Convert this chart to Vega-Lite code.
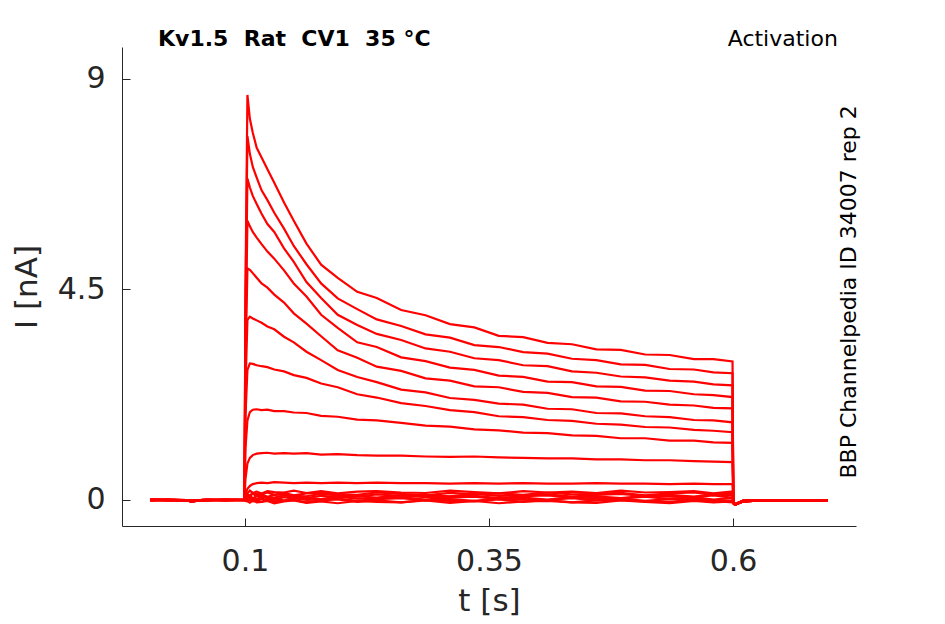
{
  "$schema": "https://vega.github.io/schema/vega-lite/v6.json",
  "width": 734,
  "height": 479,
  "autosize": {"type": "none"},
  "padding": {"left": 122, "top": 47, "right": 89, "bottom": 98},
  "background": "white",
  "config": {
    "view": {"stroke": null},
    "font": "DejaVu Sans",
    "axis": {
      "grid": false,
      "domainColor": "#262626",
      "tickColor": "#262626",
      "labelColor": "#262626",
      "titleColor": "#262626",
      "labelFont": "DejaVu Sans",
      "titleFont": "DejaVu Sans",
      "labelFontSize": 30,
      "titleFontSize": 31,
      "titleFontWeight": "normal",
      "tickSize": -8
    }
  },
  "layer": [
    {
      "data": {
        "values": [
          {"t": 0.003, "a": 0.01, "b": 0, "c": 0.01, "d": -0.01, "e": 0, "f": 0.01, "g": 0, "h": -0.01, "i": 0.01, "j": 0, "k": 0.01, "l": -0.01, "m": 0, "n": 0.01, "o": -0.01, "p": 0, "q": 0.01, "r": -0.01},
          {"t": 0.02, "a": 0, "b": 0.01, "c": 0, "d": 0, "e": -0.01, "f": 0, "g": 0.01, "h": 0, "i": -0.01, "j": 0.01, "k": 0, "l": 0, "m": 0.01, "n": -0.01, "o": 0, "p": 0.01, "q": -0.01, "r": 0},
          {"t": 0.04, "a": -0.01, "b": 0, "c": -0.01, "d": 0, "e": -0.01, "f": 0, "g": -0.01, "h": 0, "i": -0.01, "j": 0, "k": -0.01, "l": 0, "m": -0.01, "n": 0, "o": -0.01, "p": 0, "q": -0.01, "r": 0},
          {"t": 0.045, "a": -0.03, "b": -0.02, "c": -0.03, "d": -0.02, "e": -0.03, "f": -0.02, "g": -0.03, "h": -0.02, "i": -0.03, "j": -0.02, "k": -0.03, "l": -0.02, "m": -0.03, "n": -0.02, "o": -0.03, "p": -0.02, "q": -0.03, "r": -0.02},
          {"t": 0.06, "a": 0, "b": -0.01, "c": 0, "d": 0.01, "e": 0, "f": -0.01, "g": 0, "h": 0.01, "i": 0, "j": -0.01, "k": 0, "l": 0.01, "m": 0, "n": -0.01, "o": 0, "p": 0.01, "q": 0, "r": -0.01},
          {"t": 0.08, "a": 0.01, "b": 0, "c": 0, "d": -0.01, "e": 0.01, "f": 0, "g": 0, "h": -0.01, "i": 0.01, "j": 0, "k": 0, "l": -0.01, "m": 0.01, "n": 0, "o": 0, "p": -0.01, "q": 0.01, "r": 0},
          {"t": 0.0995, "a": 0, "b": 0.01, "c": 0, "d": 0, "e": -0.01, "f": 0, "g": 0.01, "h": 0, "i": 0, "j": -0.01, "k": 0, "l": 0.01, "m": 0, "n": 0, "o": -0.01, "p": 0, "q": 0.01, "r": 0},
          {"t": 0.1005, "a": 4.5, "b": 4.2, "c": 3.8, "d": 3.4, "e": 2.9, "f": 2.4, "g": 1.8, "h": 1.1, "i": 0.45, "j": 0.12, "k": 0.08, "l": 0.06, "m": 0.05, "n": 0.04, "o": 0.02, "p": 0.01, "q": -0.01, "r": -0.02},
          {"t": 0.1025, "a": 8.66, "b": 7.78, "c": 6.87, "d": 5.97, "e": 4.95, "f": 3.85, "g": 2.78, "h": 1.70, "i": 0.78, "j": 0.24, "k": 0.14, "l": 0.11, "m": 0.09, "n": 0.06, "o": 0.04, "p": 0.02, "q": -0.02, "r": -0.03},
          {"t": 0.105, "a": 8.15, "b": 7.40, "c": 6.68, "d": 5.85, "e": 4.92, "f": 3.92, "g": 2.92, "h": 1.88, "i": 0.90, "j": 0.30, "k": 0.20, "l": 0.10, "m": 0.09, "n": 0.09, "o": 0.06, "p": 0.04, "q": 0, "r": -0.06},
          {"t": 0.108, "a": 7.85, "b": 7.12, "c": 6.50, "d": 5.73, "e": 4.85, "f": 3.88, "g": 2.91, "h": 1.93, "i": 0.96, "j": 0.34, "k": 0.15, "l": 0.15, "m": 0.13, "n": 0.04, "o": 0.03, "p": 0.01, "q": -0.03, "r": -0.01},
          {"t": 0.112, "a": 7.53, "b": 6.89, "c": 6.33, "d": 5.61, "e": 4.75, "f": 3.84, "g": 2.88, "h": 1.94, "i": 0.99, "j": 0.36, "k": 0.18, "l": 0.13, "m": 0.08, "n": 0.08, "o": 0.02, "p": -0.02, "q": -0.01, "r": -0.05},
          {"t": 0.117, "a": 7.32, "b": 6.62, "c": 6.12, "d": 5.47, "e": 4.63, "f": 3.79, "g": 2.86, "h": 1.92, "i": 1.00, "j": 0.37, "k": 0.14, "l": 0.12, "m": 0.12, "n": 0.09, "o": 0.07, "p": 0.03, "q": -0.04, "r": -0.04},
          {"t": 0.123, "a": 7.07, "b": 6.41, "c": 5.90, "d": 5.31, "e": 4.54, "f": 3.71, "g": 2.84, "h": 1.93, "i": 1.01, "j": 0.36, "k": 0.19, "l": 0.16, "m": 0.07, "n": 0.06, "o": 0.04, "p": 0, "q": 0.01, "r": -0.02},
          {"t": 0.13, "a": 6.78, "b": 6.14, "c": 5.73, "d": 5.16, "e": 4.39, "f": 3.65, "g": 2.79, "h": 1.90, "i": 0.99, "j": 0.38, "k": 0.17, "l": 0.11, "m": 0.11, "n": 0.05, "o": 0.01, "p": 0.02, "q": -0.03, "r": -0.07},
          {"t": 0.14, "a": 6.36, "b": 5.80, "c": 5.38, "d": 4.91, "e": 4.22, "f": 3.49, "g": 2.75, "h": 1.90, "i": 1.00, "j": 0.37, "k": 0.16, "l": 0.15, "m": 0.12, "n": 0.10, "o": 0.06, "p": -0.01, "q": -0.02, "r": -0.03},
          {"t": 0.15, "a": 5.97, "b": 5.43, "c": 5.09, "d": 4.63, "e": 3.99, "f": 3.37, "g": 2.67, "h": 1.87, "i": 0.99, "j": 0.36, "k": 0.20, "l": 0.10, "m": 0.09, "n": 0.07, "o": 0.03, "p": 0.04, "q": 0, "r": -0.01},
          {"t": 0.163, "a": 5.48, "b": 5.04, "c": 4.66, "d": 4.35, "e": 3.77, "f": 3.17, "g": 2.61, "h": 1.86, "i": 1.00, "j": 0.37, "k": 0.15, "l": 0.14, "m": 0.08, "n": 0.04, "o": 0.05, "p": 0, "q": -0.05, "r": -0.06},
          {"t": 0.178, "a": 5.03, "b": 4.63, "c": 4.32, "d": 3.96, "e": 3.50, "f": 2.99, "g": 2.49, "h": 1.80, "i": 0.97, "j": 0.36, "k": 0.19, "l": 0.15, "m": 0.13, "n": 0.09, "o": 0.02, "p": 0.01, "q": -0.01, "r": -0.03},
          {"t": 0.195, "a": 4.75, "b": 4.31, "c": 3.96, "d": 3.68, "e": 3.20, "f": 2.78, "g": 2.41, "h": 1.78, "i": 0.98, "j": 0.37, "k": 0.14, "l": 0.12, "m": 0.10, "n": 0.06, "o": 0.07, "p": 0.03, "q": 0.01, "r": -0.07},
          {"t": 0.215, "a": 4.45, "b": 4.08, "c": 3.74, "d": 3.37, "e": 3.04, "f": 2.63, "g": 2.26, "h": 1.72, "i": 0.96, "j": 0.36, "k": 0.18, "l": 0.11, "m": 0.07, "n": 0.08, "o": 0.03, "p": -0.02, "q": -0.04, "r": -0.02},
          {"t": 0.235, "a": 4.32, "b": 3.86, "c": 3.55, "d": 3.27, "e": 2.85, "f": 2.52, "g": 2.19, "h": 1.70, "i": 0.95, "j": 0.37, "k": 0.19, "l": 0.16, "m": 0.12, "n": 0.05, "o": 0.04, "p": 0.02, "q": -0.01, "r": -0.04},
          {"t": 0.26, "a": 4.06, "b": 3.72, "c": 3.42, "d": 3.05, "e": 2.76, "f": 2.36, "g": 2.07, "h": 1.65, "i": 0.95, "j": 0.36, "k": 0.16, "l": 0.13, "m": 0.09, "n": 0.10, "o": 0.06, "p": 0.04, "q": -0.05, "r": -0.05},
          {"t": 0.285, "a": 3.95, "b": 3.54, "c": 3.24, "d": 2.97, "e": 2.60, "f": 2.30, "g": 2.01, "h": 1.59, "i": 0.93, "j": 0.36, "k": 0.15, "l": 0.10, "m": 0.11, "n": 0.06, "o": 0.01, "p": -0.01, "q": 0, "r": -0.01},
          {"t": 0.31, "a": 3.76, "b": 3.47, "c": 3.17, "d": 2.83, "e": 2.55, "f": 2.18, "g": 1.92, "h": 1.57, "i": 0.92, "j": 0.35, "k": 0.20, "l": 0.15, "m": 0.08, "n": 0.07, "o": 0.05, "p": 0.02, "q": -0.02, "r": -0.06},
          {"t": 0.335, "a": 3.69, "b": 3.31, "c": 3.03, "d": 2.78, "e": 2.43, "f": 2.14, "g": 1.88, "h": 1.51, "i": 0.93, "j": 0.36, "k": 0.17, "l": 0.12, "m": 0.13, "n": 0.09, "o": 0.07, "p": -0.02, "q": -0.03, "r": -0.02},
          {"t": 0.36, "a": 3.51, "b": 3.27, "c": 2.99, "d": 2.66, "e": 2.41, "f": 2.06, "g": 1.79, "h": 1.49, "i": 0.91, "j": 0.35, "k": 0.14, "l": 0.14, "m": 0.09, "n": 0.04, "o": 0.02, "p": 0.03, "q": 0.01, "r": -0.07},
          {"t": 0.385, "a": 3.48, "b": 3.16, "c": 2.88, "d": 2.63, "e": 2.31, "f": 2.04, "g": 1.77, "h": 1.44, "i": 0.90, "j": 0.36, "k": 0.19, "l": 0.11, "m": 0.10, "n": 0.08, "o": 0.05, "p": 0.01, "q": -0.04, "r": -0.03},
          {"t": 0.41, "a": 3.36, "b": 3.13, "c": 2.86, "d": 2.53, "e": 2.29, "f": 1.95, "g": 1.71, "h": 1.43, "i": 0.89, "j": 0.35, "k": 0.16, "l": 0.16, "m": 0.12, "n": 0.10, "o": 0.01, "p": 0, "q": 0, "r": -0.02},
          {"t": 0.435, "a": 3.33, "b": 3.02, "c": 2.75, "d": 2.52, "e": 2.20, "f": 1.94, "g": 1.69, "h": 1.38, "i": 0.89, "j": 0.35, "k": 0.18, "l": 0.12, "m": 0.07, "n": 0.05, "o": 0.06, "p": 0.04, "q": -0.05, "r": -0.05},
          {"t": 0.46, "a": 3.22, "b": 2.99, "c": 2.72, "d": 2.43, "e": 2.19, "f": 1.86, "g": 1.63, "h": 1.37, "i": 0.87, "j": 0.36, "k": 0.15, "l": 0.13, "m": 0.11, "n": 0.08, "o": 0.04, "p": -0.01, "q": -0.01, "r": -0.06},
          {"t": 0.485, "a": 3.21, "b": 2.90, "c": 2.64, "d": 2.42, "e": 2.11, "f": 1.85, "g": 1.61, "h": 1.32, "i": 0.87, "j": 0.35, "k": 0.20, "l": 0.15, "m": 0.13, "n": 0.04, "o": 0.03, "p": 0.03, "q": 0, "r": -0.01},
          {"t": 0.51, "a": 3.11, "b": 2.89, "c": 2.62, "d": 2.34, "e": 2.10, "f": 1.79, "g": 1.56, "h": 1.32, "i": 0.85, "j": 0.35, "k": 0.16, "l": 0.10, "m": 0.08, "n": 0.09, "o": 0.07, "p": -0.02, "q": -0.03, "r": -0.04},
          {"t": 0.535, "a": 3.10, "b": 2.80, "c": 2.55, "d": 2.33, "e": 2.04, "f": 1.77, "g": 1.55, "h": 1.27, "i": 0.85, "j": 0.34, "k": 0.17, "l": 0.14, "m": 0.11, "n": 0.07, "o": 0.02, "p": 0.02, "q": -0.04, "r": -0.07},
          {"t": 0.56, "a": 3.01, "b": 2.79, "c": 2.53, "d": 2.26, "e": 2.02, "f": 1.71, "g": 1.50, "h": 1.27, "i": 0.83, "j": 0.35, "k": 0.19, "l": 0.16, "m": 0.07, "n": 0.06, "o": 0.06, "p": 0.03, "q": 0.01, "r": -0.02},
          {"t": 0.58, "a": 3.01, "b": 2.73, "c": 2.47, "d": 2.24, "e": 1.97, "f": 1.70, "g": 1.48, "h": 1.23, "i": 0.82, "j": 0.34, "k": 0.14, "l": 0.11, "m": 0.12, "n": 0.10, "o": 0.01, "p": 0, "q": -0.02, "r": -0.05},
          {"t": 0.5995, "a": 2.96, "b": 2.71, "c": 2.45, "d": 2.20, "e": 1.96, "f": 1.66, "g": 1.45, "h": 1.22, "i": 0.81, "j": 0.34, "k": 0.18, "l": 0.14, "m": 0.10, "n": 0.05, "o": 0.05, "p": -0.01, "q": -0.05, "r": -0.03},
          {"t": 0.6003, "a": -0.07, "b": -0.06, "c": -0.07, "d": -0.06, "e": -0.07, "f": -0.06, "g": -0.07, "h": -0.06, "i": -0.07, "j": -0.06, "k": -0.07, "l": -0.06, "m": -0.07, "n": -0.06, "o": -0.07, "p": -0.06, "q": -0.07, "r": -0.06},
          {"t": 0.602, "a": -0.10, "b": -0.09, "c": -0.10, "d": -0.09, "e": -0.10, "f": -0.09, "g": -0.10, "h": -0.09, "i": -0.10, "j": -0.09, "k": -0.10, "l": -0.09, "m": -0.10, "n": -0.09, "o": -0.10, "p": -0.09, "q": -0.10, "r": -0.09},
          {"t": 0.61, "a": -0.03, "b": -0.02, "c": -0.03, "d": -0.02, "e": -0.03, "f": -0.02, "g": -0.03, "h": -0.02, "i": -0.03, "j": -0.02, "k": -0.03, "l": -0.02, "m": -0.03, "n": -0.02, "o": -0.03, "p": -0.02, "q": -0.03, "r": -0.02},
          {"t": 0.63, "a": -0.01, "b": 0, "c": -0.01, "d": 0, "e": -0.01, "f": 0, "g": -0.01, "h": 0, "i": -0.01, "j": 0, "k": -0.01, "l": 0, "m": -0.01, "n": 0, "o": -0.01, "p": 0, "q": -0.01, "r": 0},
          {"t": 0.66, "a": -0.02, "b": -0.01, "c": -0.02, "d": -0.01, "e": -0.02, "f": -0.01, "g": -0.02, "h": -0.01, "i": -0.02, "j": -0.01, "k": -0.02, "l": -0.01, "m": -0.02, "n": -0.01, "o": -0.02, "p": -0.01, "q": -0.02, "r": -0.01},
          {"t": 0.68, "a": -0.01, "b": 0, "c": -0.01, "d": 0, "e": -0.01, "f": 0, "g": -0.01, "h": 0, "i": -0.01, "j": 0, "k": -0.01, "l": 0, "m": -0.01, "n": 0, "o": -0.01, "p": 0, "q": -0.01, "r": 0},
          {"t": 0.697, "a": -0.02, "b": -0.01, "c": -0.02, "d": -0.01, "e": -0.02, "f": -0.01, "g": -0.02, "h": -0.01, "i": -0.02, "j": -0.01, "k": -0.02, "l": -0.01, "m": -0.02, "n": -0.01, "o": -0.02, "p": -0.01, "q": -0.02, "r": -0.01}
        ]
      },
      "transform": [
        {"fold": ["a", "b", "c", "d", "e", "f", "g", "h", "i", "j", "k", "l", "m", "n", "o", "p", "q", "r"], "as": ["trace", "I"]}
      ],
      "mark": {"type": "line", "color": "#ff0000", "strokeWidth": 2.2},
      "encoding": {
        "x": {
          "field": "t",
          "type": "quantitative",
          "scale": {"domain": [-0.026, 0.726], "nice": false, "zero": false},
          "axis": {"values": [0.1, 0.35, 0.6], "format": ".2~f", "title": "t [s]", "labelPadding": 28, "titlePadding": 10}
        },
        "y": {
          "field": "I",
          "type": "quantitative",
          "scale": {"domain": [-0.556, 9.684], "nice": false, "zero": false},
          "axis": {"values": [0, 4.5, 9], "format": ".2~f", "title": "I [nA]", "labelPadding": 25, "titlePadding": 14}
        },
        "detail": {"field": "trace"}
      }
    },
    {
      "data": {"values": [{"label": "Kv1.5\u00a0 Rat\u00a0 CV1\u00a0 35 °C"}]},
      "mark": {"type": "text", "align": "left", "baseline": "middle", "fontSize": 22, "fontWeight": "bold", "font": "DejaVu Sans", "color": "black"},
      "encoding": {
        "x": {"datum": 0.0109},
        "y": {"datum": 9.85},
        "text": {"field": "label"}
      }
    },
    {
      "data": {"values": [{"label": "Activation"}]},
      "mark": {"type": "text", "align": "center", "baseline": "middle", "fontSize": 22, "font": "DejaVu Sans", "color": "black"},
      "encoding": {
        "x": {"datum": 0.651},
        "y": {"datum": 9.85},
        "text": {"field": "label"}
      }
    },
    {
      "data": {"values": [{"label": "BBP Channelpedia ID 34007 rep 2"}]},
      "mark": {"type": "text", "align": "center", "baseline": "middle", "angle": 270, "fontSize": 22, "font": "DejaVu Sans", "color": "black"},
      "encoding": {
        "x": {"datum": 0.7189},
        "y": {"datum": 4.45},
        "text": {"field": "label"}
      }
    }
  ]
}
